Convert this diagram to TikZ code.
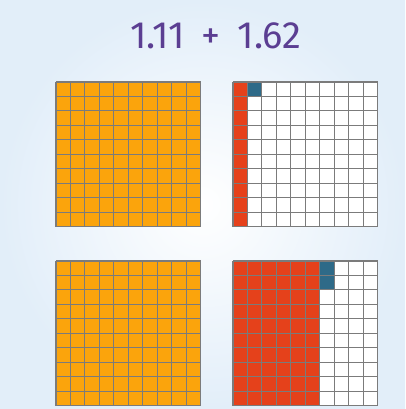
\documentclass[tikz,border=0pt]{standalone}
\usepackage{fontspec}
\setmainfont{Fira Sans}
\definecolor{bgblue}{HTML}{E2EEF9}
\definecolor{orangecell}{HTML}{FBA40C}
\definecolor{redcell}{HTML}{E5411B}
\definecolor{bluecell}{HTML}{2E6A88}
\definecolor{gridline}{HTML}{7B7B7B}
\definecolor{titlepurple}{HTML}{5B3E92}
\tikzset{
  gridlines/.style={draw=gridline, line width=1.1pt},
}
% #1,#2 top-left corner in px
\newcommand{\hundredgrid}[2]{%
  \foreach \k in {0,...,10}{%
    \draw[gridlines] ({#1+\k*14.45},#2) -- ++(0,144.5);
    \draw[gridlines] (#1,{#2+\k*14.45}) -- ++(144.5,0);
  }%
}
\begin{document}
\begin{tikzpicture}[x=1pt,y=-1pt]
  \useasboundingbox (0,0) rectangle (405,409);
  \shade[inner color=white, outer color=bgblue] (0,0) rectangle (405,409);
  \node[text=titlepurple, font=\fontsize{38}{40}\selectfont] (title) at (216,36) {1.11\hspace{0.45em}+\hspace{0.45em}1.62};
  % top left: full orange
  \fill[orangecell] (56,82) rectangle ++(144.5,144.5);
  \hundredgrid{56}{82}
  % top right: 0.11
  \fill[white] (233,82) rectangle ++(144.5,144.5);
  \fill[redcell] (233,82) rectangle ++(14.45,144.5);
  \fill[bluecell] (247.45,82) rectangle ++(14.45,14.45);
  \hundredgrid{233}{82}
  % bottom left: full orange
  \fill[orangecell] (56,261) rectangle ++(144.5,144.5);
  \hundredgrid{56}{261}
  % bottom right: 0.62
  \fill[white] (233,261) rectangle ++(144.5,144.5);
  \fill[redcell] (233,261) rectangle ++(86.7,144.5);
  \fill[bluecell] (319.7,261) rectangle ++(14.45,28.9);
  \hundredgrid{233}{261}
\end{tikzpicture}
\end{document}
